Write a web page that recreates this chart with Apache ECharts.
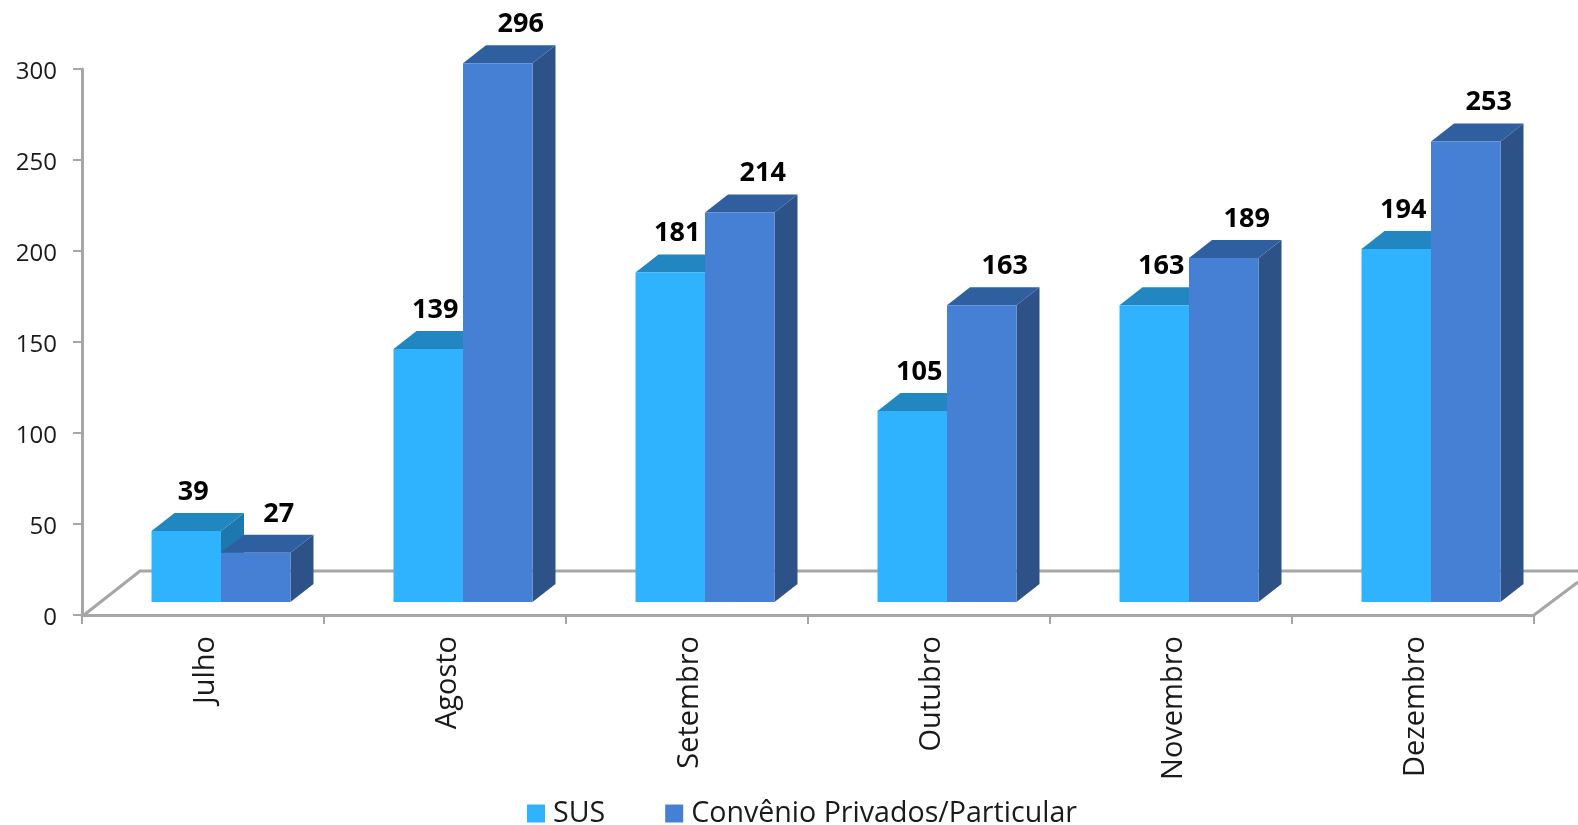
<!DOCTYPE html>
<html><head><meta charset="utf-8">
<style>html,body{margin:0;padding:0;background:#fff}#c{width:1578px;height:825px}</style>
<script src="https://cdn.jsdelivr.net/npm/echarts@6/dist/echarts.min.js"></script>
</head><body><div id="c"></div>
<script>
const categories = ['Julho','Agosto','Setembro','Outubro','Novembro','Dezembro'];
const sus = [39,139,181,105,163,194];
const convenio = [27,296,214,163,189,253];
const yTicks = {min:0,max:300,interval:50};

const chart = echarts.init(document.getElementById('c'),null,{renderer:'canvas'});
const DX=23, DY=18, LIFT=13, BAR=69.5, SHIFT=18;
function bars(front,top,side,barSide,labelDx){
  return function(params,api){
    const i=api.value(0), v=api.value(1);
    const p=api.coord([i,v]), b=api.coord([i,0]);
    const x0=p[0]+SHIFT+(barSide<0?-BAR:0), x1=x0+BAR;
    const yTop=p[1]-LIFT, yBase=b[1]-LIFT;
    return {type:'group',children:[
      {type:'polygon',shape:{points:[[x1,yTop],[x1+DX,yTop-DY],[x1+DX,yBase-DY],[x1,yBase]]},style:{fill:side}},
      {type:'polygon',shape:{points:[[x0,yTop],[x0+DX,yTop-DY],[x1+DX,yTop-DY],[x1,yTop]]},style:{fill:top}},
      {type:'rect',shape:{x:x0,y:yTop,width:BAR,height:yBase-yTop},style:{fill:front}},
      {type:'text',z2:50,style:{text:String(v),x:x0+BAR/2+labelDx,y:yTop-39,align:'center',verticalAlign:'middle',
        font:'bold 27px "Open Sans"',fill:'#000'}}
    ]};
  };
}
const floorColor='#a6a6a6';
chart.setOption({
  animation:false,
  backgroundColor:'#fff',
  grid:{left:82,right:44,top:69,bottom:210},
  legend:{left:522,top:794,itemWidth:18,itemHeight:18,itemGap:60,icon:'rect',
    textStyle:{fontFamily:'Open Sans',fontSize:28.6,color:'#1a1a1a',padding:[0,0,0,3]},
    data:['SUS','Convênio Privados/Particular']},
  xAxis:{type:'category',data:categories,
    axisLine:{lineStyle:{color:floorColor,width:3}},
    axisTick:{show:true,alignWithLabel:false,length:9,lineStyle:{color:floorColor,width:2}},
    axisLabel:{rotate:90,margin:21,interval:0,formatter:'{a|{value}}',
      rich:{a:{fontFamily:'Open Sans',fontSize:29,color:'#1a1a1a',padding:[6,0,0,0]}}},
    splitLine:{show:false}},
  yAxis:{type:'value',min:yTicks.min,max:yTicks.max,interval:yTicks.interval,
    axisLine:{show:true,lineStyle:{color:floorColor,width:3}},
    axisTick:{show:true,length:9,lineStyle:{color:floorColor,width:2}},
    axisLabel:{margin:25,formatter:'{a|{value}}',
      rich:{a:{fontFamily:'Open Sans',fontSize:24,color:'#1a1a1a',padding:[7,0,0,0]}}},
    splitLine:{show:false}},
  graphic:[{type:'polyline',z:1,shape:{points:[[84,615],[140,571],[1578,571]]},style:{stroke:floorColor,lineWidth:3,fill:null}},
           {type:'polyline',z:1,shape:{points:[[1534,615],[1578,582]]},style:{stroke:floorColor,lineWidth:3,fill:null}}],
  series:[
    {name:'SUS',type:'custom',z:5,itemStyle:{color:'#30b3ff'},encode:{x:0,y:1},
     data:sus.map((v,i)=>[i,v]),renderItem:bars('#30b3ff','#2286c0','#1c78ae',-1,7)},
    {name:'Convênio Privados/Particular',type:'custom',z:6,itemStyle:{color:'#4680d4'},encode:{x:0,y:1},
     data:convenio.map((v,i)=>[i,v]),renderItem:bars('#4680d4','#2f5f9f','#2c5288',1,23)}
  ]
});
</script></body></html>
